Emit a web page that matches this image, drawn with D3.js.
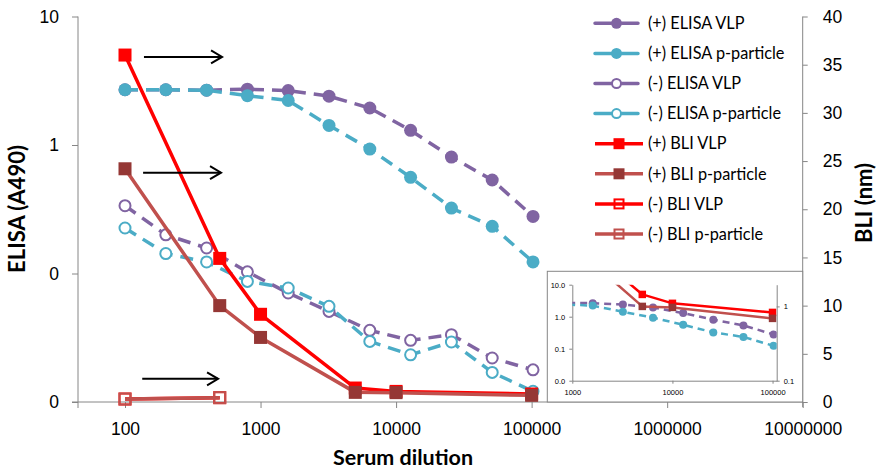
<!DOCTYPE html>
<html>
<head>
<meta charset="utf-8">
<script src="https://cdn.jsdelivr.net/npm/d3@7"></script>
<style>
  body { margin: 0; background: #fff; }
  svg { display: block; font-family: Lato, "Open Sans", sans-serif; }
</style>
</head>
<body>
<div id="chart"></div>
<script>
const dilutions = [100, 200, 400, 800, 1600, 3200, 6400, 12800, 25600, 51200, 102400];
const elisaVlpPos = [2.69, 2.69, 2.67, 2.72, 2.65, 2.40, 1.94, 1.30, 0.806, 0.534, 0.278];
const elisaPpPos = [2.69, 2.69, 2.67, 2.42, 2.22, 1.42, 0.93, 0.56, 0.323, 0.233, 0.123];
const elisaVlpNeg = [0.337, 0.200, 0.158, 0.103, 0.0705, 0.0507, 0.0361, 0.0302, 0.0334, 0.0220, 0.0178];
const elisaPpNeg = [0.226, 0.143, 0.123, 0.0868, 0.0771, 0.0555, 0.0296, 0.0233, 0.0293, 0.0170, 0.0121];

const bliDilutions = [100, 500, 1000, 5000, 10000, 100000];
const bliVlpPos = [36.0, 14.9, 9.1, 1.45, 1.1, 0.83];
const bliPpPos = [24.2, 10.0, 6.7, 1.0, 0.97, 0.69];
const bliNegDilutions = [100, 500];
const bliVlpNeg = [0.31, 0.45];
const bliPpNeg = [0.31, 0.45];

const xTicks = [100, 1000, 10000, 100000, 1000000, 10000000];
const elisaTicks = [10, 1, 0.1, 0.01];
const elisaTickLabels = ['10', '1', '0', '0'];
const bliTicks = [0, 5, 10, 15, 20, 25, 30, 35, 40];
const insetXTicks = [1000, 10000, 100000];
const insetElisaTicks = [10, 1, 0.1, 0.01];
const insetElisaLabels = ['10.0', '1.0', '0.1', '0.0'];
const insetBliTicks = [1, 0.1];
const insetBliLabels = ['1', '0.1'];

// arrow annotations: from dilution, to dilution, BLI level
const arrowFrom = [138, 136, 134];
const arrowTo = [520, 511, 486];
const arrowLevel = [35.8, 23.8, 2.4];

const purple = '#8064a2', cyan = '#4bacc6', red = '#ff0000', brown = '#c0504d', brownDark = '#953735';

const series = [
  {name: '(+) ELISA VLP', x: dilutions, y: elisaVlpPos, axis: 'elisa', color: purple, marker: 'circle', fill: purple, dash: true},
  {name: '(+) ELISA p-particle', x: dilutions, y: elisaPpPos, axis: 'elisa', color: cyan, marker: 'circle', fill: cyan, dash: true},
  {name: '(-) ELISA VLP', x: dilutions, y: elisaVlpNeg, axis: 'elisa', color: purple, marker: 'circle', fill: '#fff', dash: true},
  {name: '(-) ELISA p-particle', x: dilutions, y: elisaPpNeg, axis: 'elisa', color: cyan, marker: 'circle', fill: '#fff', dash: true},
  {name: '(+) BLI VLP', x: bliDilutions, y: bliVlpPos, axis: 'bli', color: red, marker: 'square', fill: red, dash: false},
  {name: '(+) BLI p-particle', x: bliDilutions, y: bliPpPos, axis: 'bli', color: brown, marker: 'square', fill: brownDark, dash: false},
  {name: '(-) BLI VLP', x: bliNegDilutions, y: bliVlpNeg, axis: 'bli', color: red, marker: 'square', fill: 'none', dash: false},
  {name: '(-) BLI p-particle', x: bliNegDilutions, y: bliPpNeg, axis: 'bli', color: brown, marker: 'square', fill: 'none', dash: false}
];

const width = 876, height = 470;
const plotLeft = 78, plotRight = 802.7, plotTop = 16.5, plotBottom = 402;
const axisColor = '#868686';

const svg = d3.select('#chart').append('svg')
  .attr('width', width)
  .attr('height', height);

const x = d3.scaleLog().domain([45, 10000000]).range([plotLeft, plotRight]);
const yElisa = d3.scaleLog().domain([0.01, 10]).range([plotBottom, plotTop]);
const yBli = d3.scaleLinear().domain([0, 40]).range([plotBottom, plotTop]);

function styleAxis(g, size) {
  g.selectAll('path').attr('stroke', axisColor).attr('stroke-width', 1);
  g.selectAll('line').attr('stroke', axisColor).attr('stroke-width', 1);
  g.selectAll('text').attr('fill', '#000').attr('font-size', size);
}

svg.append('g')
  .attr('transform', `translate(0,${plotBottom})`)
  .call(d3.axisBottom(x).tickValues(xTicks).tickFormat(d3.format('d')).tickSize(6).tickSizeOuter(0).tickPadding(15))
  .call(g => styleAxis(g, 17.5))
  .call(g => g.select('.domain').attr('d', `M${plotLeft - 6},0H${plotRight}`));

svg.append('g')
  .attr('transform', `translate(${plotLeft},0)`)
  .call(d3.axisLeft(yElisa).tickValues(elisaTicks).tickFormat((d, i) => elisaTickLabels[i]).tickSize(6).tickSizeOuter(0).tickPadding(13))
  .call(g => styleAxis(g, 17.5))
  .call(g => g.select('.domain').attr('d', `M0,${plotTop}V${plotBottom + 6}`));

svg.append('g')
  .attr('transform', `translate(${plotRight},0)`)
  .call(d3.axisRight(yBli).tickValues(bliTicks).tickSize(5).tickSizeOuter(0).tickPadding(15))
  .call(g => styleAxis(g, 17.5))
  .call(g => g.select('.domain').attr('d', `M0,${plotTop}V${plotBottom + 5}`));

svg.append('text')
  .attr('transform', 'translate(25,209) rotate(-90)')
  .attr('text-anchor', 'middle')
  .attr('font-size', 22)
  .attr('font-weight', 'bold')
  .text('ELISA (A490)');

svg.append('text')
  .attr('transform', 'translate(872,203) rotate(-90)')
  .attr('text-anchor', 'middle')
  .attr('font-size', 22)
  .attr('font-weight', 'bold')
  .text('BLI (nm)');

svg.append('text')
  .attr('x', 403)
  .attr('y', 465)
  .attr('text-anchor', 'middle')
  .attr('font-size', 21.5)
  .attr('font-weight', 'bold')
  .text('Serum dilution');

function drawSeries(g, s, xs, ys, opt) {
  const pts = s.x.map((d, i) => [xs(d), ys(s.y[i])]);
  g.append('path')
    .attr('d', d3.line()(pts))
    .attr('fill', 'none')
    .attr('stroke', s.color)
    .attr('stroke-width', opt.lw)
    .attr('stroke-dasharray', s.dash ? opt.dash : null)
    .attr('stroke-linejoin', 'round');
  if (s.marker === 'circle') {
    const open = s.fill === '#fff';
    g.selectAll(null)
      .data(pts)
      .join('circle')
      .attr('cx', d => d[0])
      .attr('cy', d => d[1])
      .attr('r', open ? opt.r - 1 : opt.r)
      .attr('fill', s.fill)
      .attr('stroke', s.color)
      .attr('stroke-width', open ? 2 : 0);
  } else {
    const open = s.fill === 'none';
    const sz = open ? opt.sq - 2 : opt.sq;
    g.selectAll(null)
      .data(pts)
      .join('rect')
      .attr('x', d => d[0] - sz / 2)
      .attr('y', d => d[1] - sz / 2)
      .attr('width', sz)
      .attr('height', sz)
      .attr('fill', s.fill)
      .attr('stroke', s.color)
      .attr('stroke-width', open ? 2 : 0);
  }
}

const plot = svg.append('g');
series.forEach(s => {
  drawSeries(plot, s, x, s.axis === 'elisa' ? yElisa : yBli, {lw: 3.5, dash: '13,8', r: 6.5, sq: 13});
});

const arrowG = svg.append('g').attr('stroke', '#000').attr('stroke-width', 2).attr('fill', 'none');
arrowFrom.forEach((f, i) => {
  const x1 = x(f), x2 = x(arrowTo[i]), yy = yBli(arrowLevel[i]);
  arrowG.append('path').attr('d', `M${x1},${yy}H${x2}`);
  arrowG.append('path').attr('d', `M${x2 - 11},${yy - 6.5}L${x2},${yy}L${x2 - 11},${yy + 6.5}`);
});

// legend
const legend = svg.append('g').attr('font-size', 16.3);
series.forEach((s, i) => {
  const ly = 23.3 + i * 30.1;
  const row = legend.append('g').attr('transform', `translate(0,${ly})`);
  if (s.marker === 'circle') {
    const open = s.fill === '#fff';
    row.append('path').attr('d', 'M595,0H611M622,0H638')
      .attr('stroke', s.color).attr('stroke-width', 3.5).attr('stroke-linecap', 'round');
    row.append('circle').attr('cx', 616.5).attr('cy', 0)
      .attr('r', open ? 4.5 : 5.5)
      .attr('fill', s.fill).attr('stroke', s.color).attr('stroke-width', open ? 2 : 0);
  } else {
    const open = s.fill === 'none';
    const sz = open ? 9 : 11;
    row.append('path').attr('d', 'M595,0H643')
      .attr('stroke', s.color).attr('stroke-width', 3.5);
    row.append('rect').attr('x', 619 - sz / 2).attr('y', -sz / 2).attr('width', sz).attr('height', sz)
      .attr('fill', s.fill).attr('stroke', s.color).attr('stroke-width', open ? 2 : 0);
  }
  row.append('text').attr('x', 648).attr('dy', '0.35em').text(s.name);
});

// inset
const inset = {left: 572.3, right: 776.7, top: 284.7, bottom: 380.7};
svg.append('rect')
  .attr('x', 547.3).attr('y', 271.3)
  .attr('width', plotRight - 547.3).attr('height', plotBottom - 271.3)
  .attr('fill', '#fff').attr('stroke', axisColor).attr('stroke-width', 1);

const xi = d3.scaleLog().domain([1000, 110000]).range([inset.left, inset.right]);
const yiL = d3.scaleLog().domain([0.01, 10]).range([inset.bottom, inset.top]);
const yiR = d3.scaleLog().domain([0.1, 1.96]).range([inset.bottom, inset.top]);

svg.append('clipPath').attr('id', 'inset-clip')
  .append('rect')
  .attr('x', inset.left).attr('y', inset.top)
  .attr('width', inset.right - inset.left).attr('height', inset.bottom - inset.top);

svg.append('g')
  .attr('transform', `translate(0,${inset.bottom})`)
  .call(d3.axisBottom(xi).tickValues(insetXTicks).tickFormat(d3.format('d')).tickSize(3).tickSizeOuter(0).tickPadding(6))
  .call(g => styleAxis(g, 7.5));

svg.append('g')
  .attr('transform', `translate(${inset.left},0)`)
  .call(d3.axisLeft(yiL).tickValues(insetElisaTicks).tickFormat((d, i) => insetElisaLabels[i]).tickSize(3).tickSizeOuter(0).tickPadding(4))
  .call(g => styleAxis(g, 7.5));

svg.append('g')
  .attr('transform', `translate(${inset.right},0)`)
  .call(d3.axisRight(yiR).tickValues(insetBliTicks).tickFormat((d, i) => insetBliLabels[i]).tickSize(3).tickSizeOuter(0).tickPadding(4))
  .call(g => styleAxis(g, 7.5));

const insetPlot = svg.append('g').attr('clip-path', 'url(#inset-clip)');
series.filter(s => s.name.startsWith('(+)')).forEach(s => {
  drawSeries(insetPlot, s, xi, s.axis === 'elisa' ? yiL : yiR, {lw: 2.5, dash: '7,5', r: 4, sq: 7.5});
});
</script>
</body>
</html>
